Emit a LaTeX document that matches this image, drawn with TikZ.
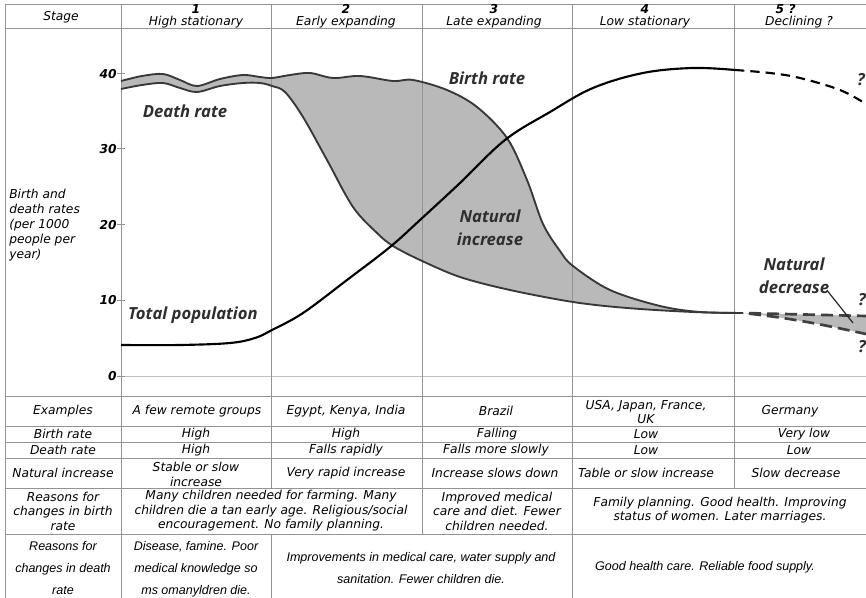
\documentclass[tikz,border=0pt]{standalone}
\usepackage{fontspec}
\setmainfont{DejaVu Sans}
\newfontfamily\arialfont{Liberation Sans}
\newfontfamily\curvefont{Open Sans}
\usepackage{tikz}
\usetikzlibrary{positioning}
\tikzset{cell/.style={font=\fontsize{9.2}{11.2}\selectfont\itshape, align=center, inner sep=0pt}}
\tikzset{headcell/.style={font=\fontsize{9.2}{9}\selectfont\itshape, align=center, inner sep=0pt}}
\tikzset{deathcell/.style={font=\arialfont\fontsize{9.4}{16.5}\selectfont\itshape, align=center, inner sep=0pt}}
\tikzset{gridline/.style={draw=gray!85, line width=0.75pt}}
\tikzset{zeroline/.style={draw=gray!50, line width=0.75pt}}
\tikzset{rate/.style={draw=black!78, line width=1.4pt, line join=round}}
\tikzset{rate dashed/.style={draw=black!75, line width=2pt, dash pattern=on 9pt off 4.5pt, dash phase=9pt}}
\tikzset{population/.style={draw=black, line width=1.6pt}}
\tikzset{population dashed/.style={population, dash pattern=on 7pt off 4.5pt}}
\tikzset{shade/.style={fill=gray!55}}
\tikzset{curvelabel/.style={font=\curvefont\fontsize{12.5}{17}\selectfont\bfseries\itshape, text=black!82, align=center, inner sep=0pt}}
\tikzset{ticklabel/.style={font=\fontsize{9.2}{11}\selectfont\bfseries\itshape, anchor=east, inner sep=0pt}}

\begin{document}
\begin{tikzpicture}[x=0.75pt, y=-0.75pt]
  \useasboundingbox (0,0) rectangle (866,598);
  \fill[white] (0,0) rectangle (866,598);

  % natural increase between the two rates
  \fill[shade] plot[smooth, tension=0.55] coordinates {(121,81) (142,76) (163,74) (180,80) (197,86) (220,79) (243,75) (260,77) (272,78) (290,75) (310,73) (333,78) (360,76) (393,81) (413,80) (447,90) (477,107) (507,138) (527,180) (543,224) (560,251) (573,266) (610,290) (660,306) (700,312) (743,313)}
    -- plot[smooth, tension=0.55] coordinates {(743,313) (693,312) (627,308) (573,302) (510,290) (460,277) (420,260) (393,246) (377,233) (353,207) (327,160) (303,117) (285,92) (272,86) (260,83) (243,83) (220,86) (197,92) (180,88) (163,83) (142,85) (121,89)} -- cycle;
  \fill[shade] (743,313) -- (866,316) -- (866,334) .. controls (820,324) and (790,318) .. (743,313) -- cycle;

  % grid of the table
  \draw[zeroline] (121,376) -- (866,376);
  \draw[gridline] (5,5) -- (866,5) (5,29) -- (866,29) (5,396) -- (866,396)
    (5,426) -- (866,426) (5,442) -- (866,442) (5,458) -- (866,458)
    (5,488) -- (866,488) (5,534) -- (866,534);
  \draw[gridline] (5,5) -- (5,598) (121,5) -- (121,598) (271,5) -- (271,488) (271,534) -- (271,598)
    (422,5) -- (422,534) (572,5) -- (572,598) (734,5) -- (734,488);
  \draw[gridline] (117,74) -- (125,74) (117,149) -- (125,149) (117,225) -- (125,225)
    (117,300) -- (125,300) (117,376) -- (125,376);

  % curves
  \draw[rate] plot[smooth, tension=0.55] coordinates {(121,81) (142,76) (163,74) (180,80) (197,86) (220,79) (243,75) (260,77) (272,78) (290,75) (310,73) (333,78) (360,76) (393,81) (413,80) (447,90) (477,107) (507,138) (527,180) (543,224) (560,251) (573,266) (610,290) (660,306) (700,312) (743,313)};
  \draw[rate] plot[smooth, tension=0.55] coordinates {(121,89) (142,85) (163,83) (180,88) (197,92) (220,86) (243,83) (260,83) (272,86) (285,92) (303,117) (327,160) (353,207) (377,233) (393,246) (420,260) (460,277) (510,290) (573,302) (627,308) (693,312) (743,313)};
  \draw[rate dashed] (743,313) -- (866,316);
  \draw[rate dashed] (743,313) .. controls (790,318) and (820,324) .. (866,334);
  \draw[population] plot[smooth, tension=0.6] coordinates {(121,345) (180,345) (230,343) (255,338) (272,330) (303,313) (347,280) (390,247) (420,220) (460,183) (505,140) (550,112) (593,88) (643,73) (693,68) (735,70)};
  \draw[population dashed] plot[smooth, tension=0.6] coordinates {(735,70) (770,73) (800,78) (840,90) (866,104)};

  % graph labels
  \node[ticklabel] (t40) at (117,74) {40};
  \node[ticklabel] (t30) at (117,149) {30};
  \node[ticklabel] (t20) at (117,225) {20};
  \node[ticklabel] (t10) at (117,300) {10};
  \node[ticklabel] (t0) at (117,376) {0};
  \node[cell, align=left, anchor=west, font=\fontsize{9.2}{11.25}\selectfont\itshape] (yaxis) at (9,225) {Birth and\\death rates\\(per 1000\\people per\\year)};
  \node[curvelabel] (death) at (185,111) {Death rate};
  \node[curvelabel] (birth) at (487,78) {Birth rate};
  \node[curvelabel] (natinc) at (490,228) {Natural\\increase};
  \node[curvelabel] (total) at (193,315) {Total population};
  \node[curvelabel] (natdec) at (794,276) {Natural\\decrease};
  \coordinate (dectip) at (853,323);
  \draw[black!85, line width=0.9pt] ([xshift=-2pt, yshift=3pt]natdec.south east) -- (dectip);
  \node[curvelabel] (qpop) at (861,80) {?};
  \node[curvelabel] (qbirth) at (862,300) {?};
  \node[curvelabel] (qdeath) at (862,347) {?};

  % header row
  \node[cell] (stage) at (61,17) {Stage};
  \node[headcell] (head1) at (196,16) {\textbf{1}\\High stationary};
  \node[headcell] (head2) at (346,16) {\textbf{2}\\Early expanding};
  \node[headcell] (head3) at (494,16) {\textbf{3}\\Late expanding};
  \node[headcell] (head4) at (645,16) {\textbf{4}\\Low stationary};
  \node[headcell] (head5) at (799,16) {\textbf{5 ?}\hspace*{20pt}\\Declining ?};

  % table rows
  \node[cell] (ex0) at (63,411) {Examples};
  \node[cell] (ex1) at (197,411) {A few remote groups};
  \node[cell] (ex2) at (346,411) {Egypt, Kenya, India};
  \node[cell] (ex3) at (496,411) {Brazil};
  \node[cell] (ex4) at (646,412) {USA, Japan, France,\\UK};
  \node[cell] (ex5) at (790,411) {Germany};

  \node[cell] (br0) at (63,434) {Birth rate};
  \node[cell] (br1) at (196,434) {High};
  \node[cell] (br2) at (346,434) {High};
  \node[cell] (br3) at (497,434) {Falling};
  \node[cell] (br4) at (646,434) {Low};
  \node[cell] (br5) at (804,434) {Very low};

  \node[cell] (dr0) at (63,450) {Death rate};
  \node[cell] (dr1) at (196,450) {High};
  \node[cell] (dr2) at (346,450) {Falls rapidly};
  \node[cell] (dr3) at (496,450) {Falls more slowly};
  \node[cell] (dr4) at (646,450) {Low};
  \node[cell] (dr5) at (799,450) {Low};

  \node[cell] (ni0) at (63,473) {Natural increase};
  \node[cell] (ni1) at (196,474) {Stable or slow\\increase};
  \node[cell] (ni2) at (346,473) {Very rapid increase};
  \node[cell] (ni3) at (495,473) {Increase slows down};
  \node[cell] (ni4) at (646,473) {Table or slow increase};
  \node[cell] (ni5) at (796,473) {Slow decrease};

  \node[cell, font=\fontsize{9.2}{10.9}\selectfont\itshape] (rb0) at (63,511) {Reasons for\\changes in birth\\rate};
  \node[cell, font=\fontsize{9.2}{10.9}\selectfont\itshape] (rb12) at (271,511) {Many children needed for farming. Many\\children die a tan early age. Religious/social\\encouragement. No family planning.};
  \node[cell, font=\fontsize{9.2}{10.9}\selectfont\itshape] (rb3) at (497,511) {Improved medical\\care and diet. Fewer\\children needed.};
  \node[cell, font=\fontsize{9.2}{10.9}\selectfont\itshape] (rb45) at (720,510) {Family planning. Good health. Improving\\status of women. Later marriages.};

  \node[deathcell] (rd0) at (63,568) {Reasons for\\changes in death\\rate};
  \node[deathcell] (rd1) at (196,569) {Disease, famine. Poor\\medical knowledge so\\ms omanyldren die.};
  \node[deathcell] (rd23) at (421,568) {Improvements in medical care, water supply and\\sanitation. Fewer children die.};
  \node[deathcell] (rd45) at (705,567) {Good health care. Reliable food supply.};
\end{tikzpicture}
\end{document}
